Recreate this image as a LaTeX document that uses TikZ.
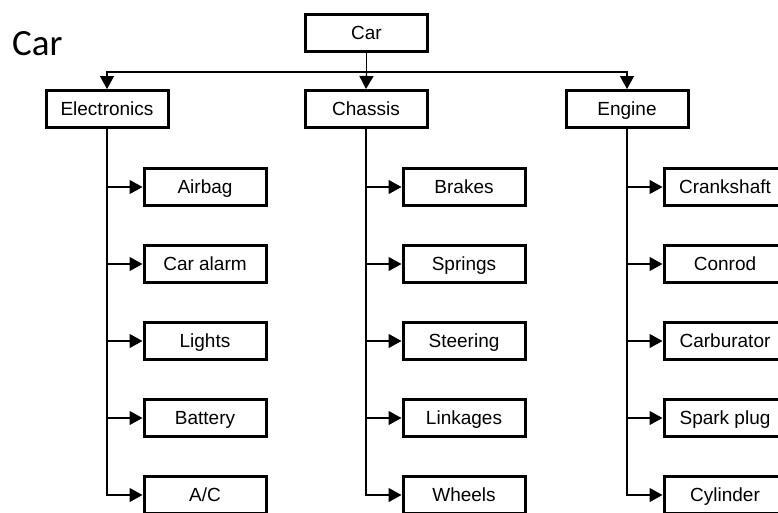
\documentclass[tikz,border=0pt]{standalone}
\usepackage{fontspec}
\setmainfont{Liberation Sans}
\newfontfamily\titlefont{Carlito}
\usetikzlibrary{arrows.meta}

\begin{document}
\begin{tikzpicture}[
    x=1pt, y=-1pt,
    font=\fontsize{19}{21}\selectfont,
    box/.style={draw, line width=3pt, minimum width=122pt, minimum height=37pt,
        inner sep=0pt, text height=13.6pt, text depth=0pt},
    link/.style={line width=1.3pt},
    tip/.style={link, -{Triangle[length=13pt, width=14pt]}}
]

%% Rozmery obrázka (v px)
\useasboundingbox (0,0) rectangle (778,512);
\clip (0,0) rectangle (778,512);

%% Nadpis
\node[anchor=base west, inner sep=0pt, font=\titlefont\fontsize{37}{40}\selectfont] (title) at (12,55) {Car};

%% Koreň a tri hlavné skupiny
\node[box] (car) at (366.5,32.5) {Car};
\node[box] (elec) at (107,109) {Electronics};
\node[box] (chas) at (366,109) {Chassis};
\node[box] (eng)  at (627,109) {Engine};

\draw[link] (car.south) -- (366.5,72) coordinate (bus);
\draw[tip] (bus) -| (elec.north);
\draw[tip] (bus) -- (chas.north);
\draw[tip] (bus) -| (eng.north);

%% Podskupiny: (rodič, zoznam textov)
\def\dx{98}
\foreach \grp/\items in {elec/{Airbag,Car alarm,Lights,Battery,A/C},
    chas/{Brakes,Springs,Steering,Linkages,Wheels},
    eng/{Crankshaft,Conrod,Carburator,Spark plug,Cylinder}%
} {
    \foreach \item [count=\i] in \items {
        \pgfmathsetmacro\ypos{187 + (\i-1)*77}
        \node[box] (\grp\i) at ([xshift=\dx pt]\grp.center |- 0,\ypos) {\item};
        \draw[tip] (\grp.south) |- (\grp\i.west);
    }
}

\end{tikzpicture}
\end{document}
